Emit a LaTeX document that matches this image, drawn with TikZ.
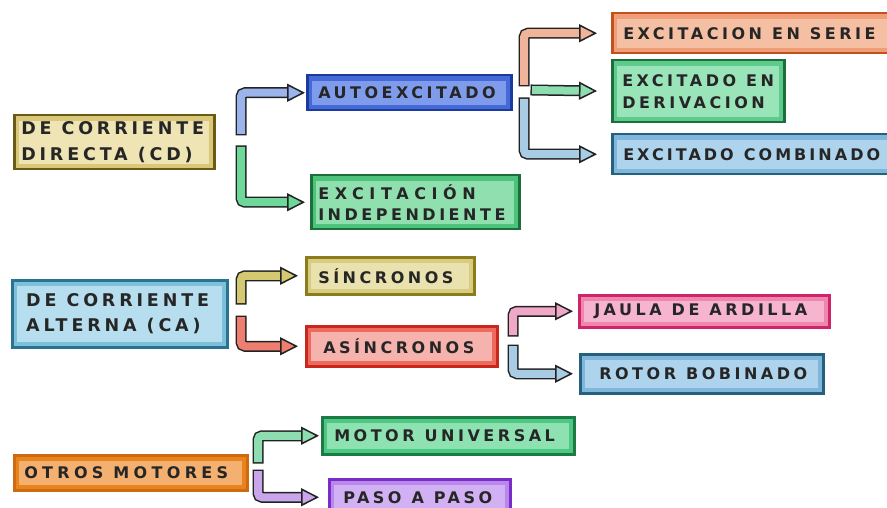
\documentclass[tikz,border=0pt]{standalone}
\usepackage{fontspec}
\newfontfamily\boxfont[LetterSpace=22]{DejaVu Sans}
\newcommand\boxfontsel{\boxfont\bfseries\fontsize{16pt}{19pt}\selectfont}
\newcommand\bigboxfontsel{\boxfont\bfseries\fontsize{17.5pt}{21pt}\selectfont}
\usetikzlibrary{arrows.meta}
\definecolor{cdM}{HTML}{D9C77A}\definecolor{cdL}{HTML}{EEE4B4}\definecolor{cdB}{HTML}{6B5A14}
\definecolor{auM}{HTML}{4569D6}\definecolor{auL}{HTML}{7F9CEC}\definecolor{auB}{HTML}{1A3A9E}
\definecolor{inM}{HTML}{4CC27A}\definecolor{inL}{HTML}{8FE0AE}\definecolor{inB}{HTML}{1D6E3A}
\definecolor{seM}{HTML}{EE9F78}\definecolor{seL}{HTML}{F4BFA2}\definecolor{seB}{HTML}{C4501C}
\definecolor{deM}{HTML}{5CCB8C}\definecolor{deL}{HTML}{9AE4BA}\definecolor{deB}{HTML}{1D6E3A}
\definecolor{coM}{HTML}{7FB6DA}\definecolor{coL}{HTML}{AED3EC}\definecolor{coB}{HTML}{25607F}
\definecolor{caM}{HTML}{7CC0DC}\definecolor{caL}{HTML}{B6DEEE}\definecolor{caB}{HTML}{2A7390}
\definecolor{siM}{HTML}{D8CC80}\definecolor{siL}{HTML}{EAE2AE}\definecolor{siB}{HTML}{8C7C1C}
\definecolor{asM}{HTML}{EE6A5C}\definecolor{asL}{HTML}{F6B2AC}\definecolor{asB}{HTML}{C8281C}
\definecolor{jaM}{HTML}{EE86B0}\definecolor{jaL}{HTML}{F6B4CE}\definecolor{jaB}{HTML}{D02468}
\definecolor{otM}{HTML}{E8841C}\definecolor{otL}{HTML}{F4B070}\definecolor{otB}{HTML}{D06A10}
\definecolor{unM}{HTML}{4CC882}\definecolor{unL}{HTML}{8EE2B2}\definecolor{unB}{HTML}{1D7A44}
\definecolor{paM}{HTML}{B888EA}\definecolor{paL}{HTML}{D2B0F4}\definecolor{paB}{HTML}{7A2CC8}
\definecolor{arBlue}{HTML}{9BB4EC}
\definecolor{arGreen}{HTML}{6ED89A}
\definecolor{arSalmon}{HTML}{F0B49A}
\definecolor{arMint}{HTML}{8EDDB0}
\definecolor{arSky}{HTML}{A8CCE4}
\definecolor{arOlive}{HTML}{D4C870}
\definecolor{arRed}{HTML}{EE7F70}
\definecolor{arPink}{HTML}{F0A8C8}
\definecolor{arPurple}{HTML}{C9A6EC}
\definecolor{edge}{HTML}{222222}
\begin{document}
\begin{tikzpicture}[x=1pt,y=-1pt,
  box/.style n args={3}{rectangle, fill=#1, draw=#3, line width=2.5pt, anchor=north west,
    align=left, inner ysep=0pt, text=black!85, font=\boxfontsel,
    execute at begin node={\spaceskip=10pt\relax\xspaceskip=10pt\relax},
    path picture={\fill[#2] ([shift={(5pt,-6pt)}]path picture bounding box.north west)
      rectangle ([shift={(-5pt,5pt)}]path picture bounding box.south east);}},
  bigtext/.style={font=\bigboxfontsel},
  fat/.style 2 args={line width=8pt, draw=#1, rounded corners=4pt, shorten >=#2,
    preaction={draw=edge, line width=11pt, arrows=-, shorten >=#2+12pt, shorten <=-1.5pt},
    -{Triangle[length=18pt, width=18pt, color=edge, fill=#1, line width=1.5pt]}},
]
\clip (0,0) rectangle (887,508);
\fill[white] (0,0) rectangle (887,508);

% boxes
\node[box={cdM}{cdL}{cdB}, bigtext, minimum width=200pt, minimum height=54pt, text width=186pt, inner xsep=7pt]
  (cd) at (13,114) {\mbox{DE CORRIENTE}\\[5pt]\mbox{DIRECTA (CD)}};
\node[box={auM}{auL}{auB}, minimum width=204pt, minimum height=35pt, text width=182pt, inner xsep=11pt]
  (auto) at (306,74) {\mbox{AUTOEXCITADO}};
\node[box={inM}{inL}{inB}, minimum width=208pt, minimum height=54pt, text width=194pt, inner xsep=7pt]
  (indep) at (310,174) {\mbox{\addfontfeature{LetterSpace=35}EXCITACIÓN}\\[2pt]\mbox{INDEPENDIENTE}};
\node[box={seM}{seL}{seB}, minimum width=300pt, minimum height=40pt, text width=278pt, inner xsep=11pt]
  (serie) at (611,12) {\mbox{EXCITACION EN SERIE}};
\node[box={deM}{deL}{deB}, minimum width=172pt, minimum height=62pt, text width=152pt, inner xsep=10pt]
  (deriv) at (611,59) {\mbox{EXCITADO EN}\\[3pt]\mbox{DERIVACION}};
\node[box={coM}{coL}{coB}, minimum width=320pt, minimum height=40pt, text width=298pt, inner xsep=11pt]
  (comb) at (611,133) {\mbox{\addfontfeature{LetterSpace=19}EXCITADO COMBINADO}};
\node[box={caM}{caL}{caB}, bigtext, minimum width=215pt, minimum height=67pt, text width=187pt, inner xsep=14pt]
  (ca) at (11,279) {\mbox{DE CORRIENTE}\\[4pt]\mbox{ALTERNA (CA)}};
\node[box={siM}{siL}{siB}, minimum width=168pt, minimum height=37pt, text width=144pt, inner xsep=12pt]
  (sinc) at (305,256) {\mbox{SÍNCRONOS}};
\node[box={asM}{asL}{asB}, minimum width=191pt, minimum height=40pt, text width=157pt, inner xsep=17pt]
  (asinc) at (305,325) {\mbox{ASÍNCRONOS}};
\node[box={jaM}{jaL}{jaB}, minimum width=250pt, minimum height=32pt, text width=220pt, inner xsep=15pt]
  (jaula) at (578,294) {\mbox{JAULA DE ARDILLA}};
\node[box={coM}{coL}{coB}, minimum width=243pt, minimum height=39pt, text width=205pt, inner xsep=19pt]
  (rotor) at (579,353) {\mbox{ROTOR BOBINADO}};
\node[box={otM}{otL}{otB}, minimum width=233pt, minimum height=35pt, text width=213pt, inner xsep=10pt]
  (otros) at (13,454) {\mbox{\addfontfeature{LetterSpace=27}OTROS MOTORES}};
\node[box={unM}{unL}{unB}, minimum width=252pt, minimum height=37pt, text width=228pt, inner xsep=12pt]
  (univ) at (321,416) {\mbox{MOTOR UNIVERSAL}};
\node[box={paM}{paL}{paB}, minimum width=181pt, minimum height=36pt, text width=153pt, inner xsep=14pt]
  (paso) at (328,478) {\mbox{PASO A PASO}};

% connector start points
\coordinate (cdA) at (241,134);
\coordinate (cdC) at (241,147);
\coordinate (auA) at (524,85);
\coordinate (auMid) at (532,90);
\coordinate (auC) at (524,99);
\coordinate (caA) at (241,303);
\coordinate (caC) at (241,317);
\coordinate (asA) at (513,335);
\coordinate (asC) at (513,346);
\coordinate (otA) at (258,462);
\coordinate (otC) at (258,471);

% connectors
\draw[fat={arBlue}{1pt}] (cdA) |- (auto.west);
\draw[fat={arGreen}{5pt}] (cdC) |- (indep.west);
\draw[fat={arSalmon}{14pt}] (auA) |- (serie.west);
\draw[fat={arMint}{14pt}] (auMid) -- (deriv.west);
\draw[fat={arSky}{14pt}] (auC) |- (comb.west);
\draw[fat={arOlive}{7pt}] (caA) |- (sinc.west);
\draw[fat={arRed}{7pt}] (caC) |- (asinc.west);
\draw[fat={arPink}{5pt}] (asA) |- (jaula.west);
\draw[fat={arSky}{6pt}] (asC) |- (rotor.west);
\draw[fat={arMint}{2pt}] (otA) |- (univ.west);
\draw[fat={arPurple}{9pt}] (otC) |- (paso.west);
\end{tikzpicture}
\end{document}
